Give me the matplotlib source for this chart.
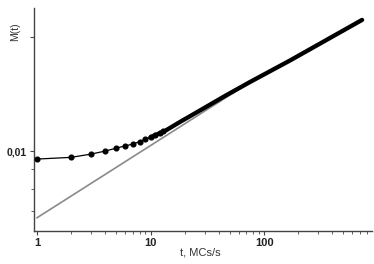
import matplotlib
matplotlib.use("Agg")
import matplotlib.pyplot as plt
from matplotlib.ticker import FixedLocator, NullFormatter

# Data (log-log)
t_points = [1, 2, 3, 4, 5, 6, 7, 8, 9, 10, 11, 12, 13]
m_points = [0.0085, 0.0088, 0.0094, 0.0100, 0.0106, 0.0111, 0.0115, 0.0121,
            0.0127, 0.0132, 0.0137, 0.0143, 0.0149]

t_band = [10, 13.4, 18.2, 27.3, 45.3, 75.3, 169.4, 730]
m_band = [0.0132, 0.0150, 0.0180, 0.0227, 0.0304, 0.0403, 0.0622, 0.141]

t_fit = [1, 95]
m_fit = [0.0026, 0.0026 * 95 ** 0.633]

x_ticks = [1, 10, 100]
x_labels = ["1", "10", "100"]
y_minor = [0.003, 0.0046, 0.007]

plt.rcParams['font.family'] = ['Liberation Sans', 'DejaVu Sans']

fig = plt.figure(figsize=(3.74, 2.64), dpi=100)
ax = fig.add_axes([0.091, 0.125, 0.904, 0.845])

ax.plot(t_fit, m_fit, color='#8a8a8a', lw=1.2, zorder=2)
ax.plot(t_band, m_band, color='black', lw=3.1, solid_capstyle='round',
        solid_joinstyle='round', zorder=3)
ax.plot(t_points, m_points, color='black', lw=0.9, marker='o', ms=3.4, zorder=4)

ax.set_xscale('log')
ax.set_yscale('log')
ax.set_xlim(0.941, 895)
ax.set_ylim(0.00199, 0.1796)

ax.spines['top'].set_visible(False)
ax.spines['right'].set_visible(False)
for s in ('left', 'bottom'):
    ax.spines[s].set_color('#444444')
    ax.spines[s].set_linewidth(1.0)

ax.xaxis.set_major_locator(FixedLocator(x_ticks))
ax.set_xticklabels(x_labels, fontsize=8, fontweight='bold', color='#222222')
ax.xaxis.set_minor_formatter(NullFormatter())
ax.yaxis.set_major_locator(FixedLocator([0.01, 0.1]))
ax.set_yticklabels(["0,01", ""], fontsize=7.5, fontweight='bold', color='#222222')
ax.yaxis.set_minor_locator(FixedLocator(y_minor))
ax.yaxis.set_minor_formatter(NullFormatter())
ax.tick_params(which='major', length=3, width=0.8, color='#444444', pad=2)
ax.tick_params(which='minor', length=2, width=0.6, color='#444444')

fig.text(0.04, 0.88, "M(t)", rotation=90, ha='center', va='center',
         fontsize=7.5, color='#333333')
fig.text(0.535, 0.045, "t, MCs/s", ha='center', va='center',
         fontsize=8, color='#333333')

fig.savefig("out.png", dpi=100)
